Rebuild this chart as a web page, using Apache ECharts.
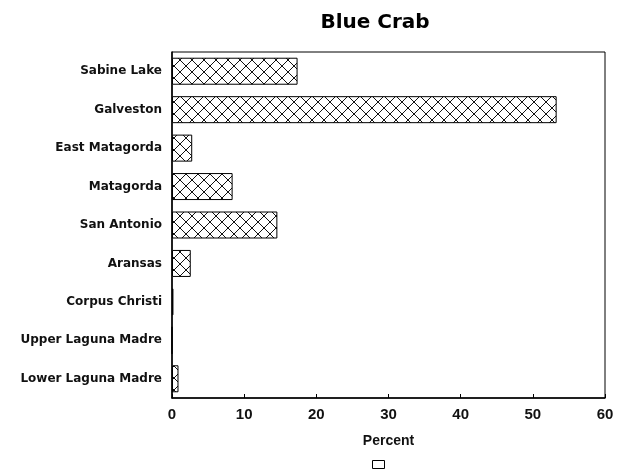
<!DOCTYPE html>
<html>
<head>
<meta charset="utf-8">
<title>Blue Crab</title>
<script src="https://cdn.jsdelivr.net/npm/echarts@6/dist/echarts.min.js"></script>
<style>
    html, body { margin: 0; padding: 0; background: #fff; }
    #chart { width: 617px; height: 470px; }
</style>
</head>
<body>
<div id="chart"></div>
<script>
var bays	= ['Sabine Lake', 'Galveston', 'East Matagorda', 'Matagorda', 'San Antonio',
		   'Aransas', 'Corpus Christi', 'Upper Laguna Madre', 'Lower Laguna Madre'];
var percent	= [17.4, 53.3, 2.8, 8.4, 14.6, 2.6, 0.2, 0, 0.9];
var x_ticks	= [0, 10, 20, 30, 40, 50, 60];

// cross hatch fill for the bars
function make_hatch() {
    var size = 12;
    var cv = document.createElement('canvas');
    cv.width = size;
    cv.height = size;
    var ctx = cv.getContext('2d');
    ctx.fillStyle = '#fff';
    ctx.fillRect(0, 0, size, size);
    ctx.strokeStyle = '#111';
    ctx.lineWidth = 1;
    ctx.beginPath();
    ctx.moveTo(-1, -1); ctx.lineTo(size + 1, size + 1);
    ctx.moveTo(size + 1, -1); ctx.lineTo(-1, size + 1);
    ctx.stroke();
    return cv;
}

var chart = echarts.init(document.getElementById('chart'));
var option = {
    animation: false,
    backgroundColor: '#fff',
    title: {
	text: 'Blue Crab',
	left: 370,
	top: 8,
	textAlign: 'center',
	textStyle: {
	    fontFamily: 'DejaVu Sans',
	    fontWeight: 'bold',
	    fontSize: 20,
	    color: '#000'
	}
    },
    legend: {
	left: 367,
	top: 455,
	itemWidth: 12,
	itemHeight: 8,
	itemGap: 0,
	formatter: function() { return ''; },
	data: [{
	    name: 'Percent',
	    icon: 'rect',
	    itemStyle: { color: '#fff', borderColor: '#000', borderWidth: 1 }
	}]
    },
    grid: {
	left: 172,
	right: 12,
	top: 52,
	bottom: 72,
	show: true,
	borderColor: '#000',
	borderWidth: 1
    },
    xAxis: {
	type: 'value',
	min: x_ticks[0],
	max: x_ticks[x_ticks.length - 1],
	interval: 10,
	name: 'Percent',
	nameLocation: 'middle',
	nameGap: 36,
	nameTextStyle: {
	    fontFamily: 'Liberation Sans',
	    fontWeight: 'bold',
	    fontSize: 14,
	    color: '#111'
	},
	axisLine: { show: true, lineStyle: { color: '#000', width: 1.5 } },
	axisTick: { show: true, inside: true, length: 4, lineStyle: { color: '#000' } },
	axisLabel: {
	    margin: 9,
	    fontFamily: 'Liberation Sans',
	    fontWeight: 'bold',
	    fontSize: 15,
	    color: '#111'
	},
	splitLine: { show: false }
    },
    yAxis: {
	type: 'category',
	inverse: true,
	data: bays,
	axisLine: { show: true, lineStyle: { color: '#000', width: 1.5 } },
	axisTick: { show: false },
	axisLabel: {
	    margin: 10,
	    fontFamily: 'DejaVu Sans',
	    fontWeight: 'bold',
	    fontSize: 12,
	    color: '#111'
	},
	splitLine: { show: false }
    },
    series: [{
	name: 'Percent',
	type: 'bar',
	data: percent,
	barWidth: 27,
	itemStyle: {
	    color: { image: make_hatch(), repeat: 'repeat' },
	    borderColor: '#000',
	    borderWidth: 1
	}
    }]
};
chart.setOption(option);
</script>
</body>
</html>
